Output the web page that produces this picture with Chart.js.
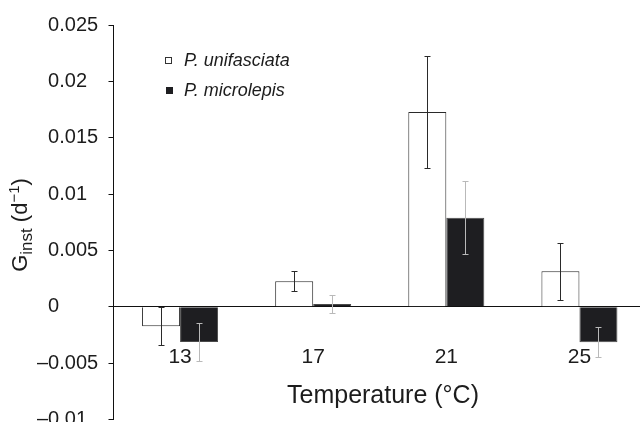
<!DOCTYPE html>
<html>
<head>
<meta charset="utf-8">
<script src="https://cdn.jsdelivr.net/npm/chart.js@4.4.0/dist/chart.umd.min.js"></script>
<style>
  html, body { margin: 0; padding: 0; background: #fff; overflow: hidden; }
  canvas { display: block; }
</style>
</head>
<body>
<canvas id="growth" width="646" height="440"></canvas>
<script>
var temps = ["13", "17", "21", "25"];
var seriesNames = ["P. unifasciata", "P. microlepis"];
var uniMean = [-0.00174, 0.00226, 0.01730, 0.00315];
var uniErr = [0.0017, 0.00087, 0.00495, 0.00254];
var microMean = [-0.00313, 0.00025, 0.00790, -0.00316];
var microErr = [0.0017, 0.00078, 0.00325, 0.00135];
var yTickText = ["\u20130.01", "\u20130.005", "\u20070", "\u20070.005", "\u20070.01", "\u20070.015", "\u20070.02", "\u20070.025"];
var xTitle = "Temperature (\u00b0C)";

var ink = "#1c1c1c";
var fam = "'Liberation Sans', Arial, sans-serif";

// error bars drawn from the y scale
var errorBars = {
    id: "errorBars",
    afterDatasetsDraw: function (chart) {
        var ctx = chart.ctx;
        var y = chart.scales.y;
        chart.data.datasets.forEach(function (ds, di) {
            var meta = chart.getDatasetMeta(di);
            ctx.save();
            ctx.strokeStyle = ds.errorColor;
            ctx.lineWidth = 1;
            meta.data.forEach(function (bar, i) {
                var v = ds.data[i], e = ds.errors[i];
                var x = Math.round(bar.x) + 0.5;
                var top = Math.round(y.getPixelForValue(v + e)) + 0.5;
                var bot = Math.round(y.getPixelForValue(v - e)) + 0.5;
                ctx.beginPath();
                ctx.moveTo(x, top); ctx.lineTo(x, bot);
                ctx.moveTo(x - 3, top); ctx.lineTo(x + 3, top);
                ctx.moveTo(x - 3, bot); ctx.lineTo(x + 3, bot);
                ctx.stroke();
            });
            ctx.restore();
        });
    }
};

var boxLegend = {
    id: "boxLegend",
    afterDraw: function (chart) {
        var ctx = chart.ctx;
        var rows = [61, 91];
        ctx.save();
        chart.data.datasets.forEach(function (ds, i) {
            var cy = rows[i];
            if (i === 0) {
                ctx.fillStyle = "#fff";
                ctx.strokeStyle = "#333";
                ctx.lineWidth = 1;
                ctx.fillRect(166, cy - 3, 6, 6);
                ctx.strokeRect(165.5, cy - 3.5, 6, 6);
            } else {
                ctx.fillStyle = ds.backgroundColor;
                ctx.fillRect(166, cy - 4, 7, 7);
            }
            ctx.fillStyle = ink;
            ctx.font = "italic 18px " + fam;
            ctx.textBaseline = "middle";
            ctx.textAlign = "left";
            ctx.fillText(ds.label, 184, cy);
        });
        ctx.restore();
    }
};

// axis titles: y has sub/superscripts, x sits under the zero line
var axisTitles = {
    id: "axisTitles",
    afterDraw: function (chart) {
        var ctx = chart.ctx;
        var parts = [
            { t: "G", size: 22, dy: 0 },
            { t: "inst", size: 17, dy: 5 },
            { t: " (d", size: 22, dy: 0 },
            { t: "\u22121", size: 15, dy: -8 },
            { t: ")", size: 22, dy: 0 }
        ];
        var total = 0;
        parts.forEach(function (p) {
            ctx.font = p.size + "px " + fam;
            p.w = ctx.measureText(p.t).width;
            total += p.w;
        });
        ctx.save();
        ctx.translate(27, 225);
        ctx.rotate(-Math.PI / 2);
        ctx.fillStyle = ink;
        ctx.textBaseline = "alphabetic";
        ctx.textAlign = "left";
        var x = -total / 2;
        parts.forEach(function (p) {
            ctx.font = p.size + "px " + fam;
            ctx.fillText(p.t, x, p.dy);
            x += p.w;
        });
        ctx.restore();

        var zero = chart.scales.y.getPixelForValue(0);
        ctx.save();
        ctx.fillStyle = ink;
        ctx.font = "25px " + fam;
        ctx.textAlign = "center";
        ctx.textBaseline = "alphabetic";
        ctx.fillText(xTitle, 383, zero + 96);
        ctx.restore();
    }
};

var chart = new Chart(document.getElementById("growth"), {
    type: "bar",
    data: {
        labels: temps,
        datasets: [{
            label: seriesNames[0],
            data: uniMean,
            errors: uniErr,
            errorColor: "#2a2a2a",
            backgroundColor: "#ffffff",
            borderColor: "#2a2a2a",
            borderWidth: 1
        }, {
            label: seriesNames[1],
            data: microMean,
            errors: microErr,
            errorColor: "#b9b9b9",
            backgroundColor: "#1e1e21",
            borderColor: "#4a4a4a",
            borderWidth: 1
        }]
    },
    options: {
        responsive: false,
        animation: false,
        layout: { padding: { top: 25.2, left: 37, right: 0, bottom: 20.7 } },
        categoryPercentage: 0.571,
        barPercentage: 1,
        plugins: {
            legend: { display: false },
            tooltip: { enabled: false }
        },
        scales: {
            x: {
                position: { y: 0 },
                z: 1,
                grid: { display: false },
                border: { display: true, color: "#111", width: 1 },
                ticks: {
                    padding: 30,
                    color: ink,
                    font: { family: fam, size: 21 }
                }
            },
            y: {
                min: -0.01,
                max: 0.025,
                grid: { drawOnChartArea: false, drawTicks: true, tickLength: 5, color: "#111" },
                border: { display: true, color: "#111", width: 1 },
                ticks: {
                    stepSize: 0.005,
                    crossAlign: "far",
                    padding: 2,
                    color: ink,
                    font: { family: fam, size: 20 },
                    callback: function (value, index) { return yTickText[index]; }
                },
                afterFit: function (scale) {
                    scale.width = 76.5;
                    scale.paddingTop = 0;
                    scale.paddingBottom = 0;
                }
            }
        }
    },
    plugins: [errorBars, boxLegend, axisTitles]
});
</script>
</body>
</html>
